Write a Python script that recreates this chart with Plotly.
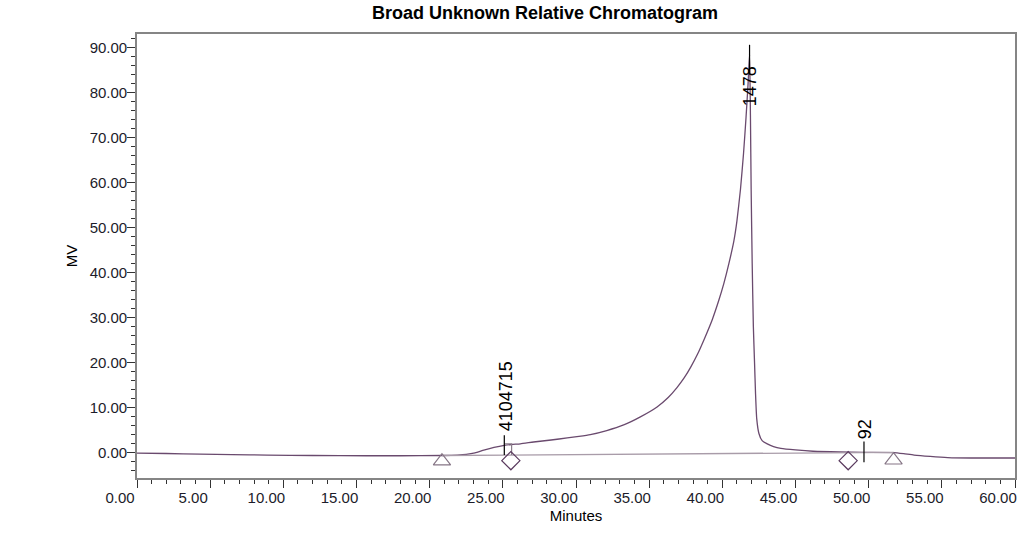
import plotly.graph_objects as go

# ---- data ----
time_min = [0, 2, 4.3, 6.5, 8.9, 12, 15.7, 18, 20.84, 21.9, 22.5, 23.1, 23.7, 24.4, 25.1,
            25.6, 26.2, 27.1, 28.3, 29.4, 30.2, 30.98, 32.1, 33.26, 34.4, 35.54, 36.3, 36.9,
            37.4, 37.83, 38.3, 38.74, 39.31, 39.76, 40.1, 40.45, 40.79, 41.0, 41.24, 41.45,
            41.62, 41.76, 41.86, 41.92, 41.97, 42.04, 42.12, 42.2, 42.27, 42.35, 42.5, 42.72,
            43.07, 43.5, 44.0, 45.0, 46.2, 48.0, 49.7, 51.7, 52.4, 53.1, 54.2, 55.4, 57.0, 60.0]
signal_mv = [-0.15, -0.25, -0.4, -0.5, -0.6, -0.7, -0.75, -0.75, -0.7, -0.6, -0.45, -0.1, 0.5,
             1.1, 1.55, 1.75, 1.9, 2.3, 2.75, 3.2, 3.55, 3.95, 4.85, 6.1, 7.9, 10.1, 12.2, 14.4,
             16.6, 18.9, 21.8, 25.0, 29.5, 33.8, 37.5, 42.0, 47.0, 51.5, 58.5, 66.5, 74.5, 82.0,
             88.5, 75.0, 58.3, 42.0, 28.0, 20.0, 13.0, 7.5, 4.2, 2.6, 1.9, 1.3, 0.9, 0.55, 0.25,
             0.08, 0.0, -0.05, -0.3, -0.6, -0.9, -1.15, -1.25, -1.25]

baseline_t = [20.84, 51.7]
baseline_y = [-0.7, 0.0]

triangle_t = [20.84, 51.7]
triangle_y = [-1.95, -1.75]
diamond_t = [25.55, 48.6]
diamond_y = [-1.85, -1.85]

# peak end bracket
bracket_t = [25.1, 25.6, 25.6]
bracket_y = [1.9, 1.9, -0.6]

# peak labels
label_text = ["4104715", "1478", "92"]
label_line_t = [25.1, 41.86, 49.68]
label_line_top = [3.8, 90.6, 2.4]
label_line_bottom = [-0.6, 84.0, -2.2]
label_text_x = [25.2, 41.86, 49.75]
label_text_bottom = [4.4, 76.6, 2.7]

x_range = [0, 60]
y_range = [-5.7, 93.0]

FONT = "Liberation Sans"
curve_color = "#6a4a6e"
base_color = "#a99ca9"

fig = go.Figure()

fig.add_trace(go.Scatter(x=time_min, y=signal_mv, mode="lines",
                         line=dict(color=curve_color, width=1.3, shape="spline", smoothing=0.5),
                         hoverinfo="skip"))
fig.add_trace(go.Scatter(x=baseline_t, y=baseline_y, mode="lines",
                         line=dict(color=base_color, width=1.3), hoverinfo="skip"))
fig.add_trace(go.Scatter(x=bracket_t, y=bracket_y, mode="lines",
                         line=dict(color="#8a7d8a", width=1.2), hoverinfo="skip"))

lx, ly = [], []
for t, top, bot in zip(label_line_t, label_line_top, label_line_bottom):
    lx += [t, t, None]
    ly += [top, bot, None]
fig.add_trace(go.Scatter(x=lx, y=ly, mode="lines",
                         line=dict(color="black", width=1.2), hoverinfo="skip"))

fig.add_trace(go.Scatter(x=triangle_t, y=triangle_y, mode="markers",
                         marker=dict(symbol="triangle-up-open", size=15, color="#857585",
                                     line=dict(width=1.2)), hoverinfo="skip"))
fig.add_trace(go.Scatter(x=diamond_t, y=diamond_y, mode="markers",
                         marker=dict(symbol="diamond-open", size=14, color="#5a3a5e",
                                     line=dict(width=1.2)), hoverinfo="skip"))

for txt, tx, ty in zip(label_text, label_text_x, label_text_bottom):
    fig.add_annotation(x=tx, y=ty, text=txt, textangle=-90, showarrow=False,
                       xanchor="center", yanchor="bottom",
                       font=dict(family=FONT, size=18, color="black"), borderpad=0)

fig.update_layout(
    width=1024, height=533,
    paper_bgcolor="white", plot_bgcolor="white",
    showlegend=False,
    margin=dict(l=137, r=9, t=34, b=55, autoexpand=False),
    title=dict(text="<b>Broad Unknown Relative Chromatogram</b>",
               font=dict(family=FONT, size=18, color="black"),
               x=545 / 1024, xanchor="center", xref="container",
               y=1 - 13 / 533, yanchor="middle", yref="container"),
)

fig.update_xaxes(
    range=x_range, tick0=0, dtick=5, tickformat=".2f",
    showgrid=False, zeroline=False,
    showline=True, linecolor="#858585", linewidth=1.6, mirror=True,
    ticks="outside", ticklen=8, tickwidth=1, tickcolor="#333",
    minor=dict(ticks="outside", ticklen=4, dtick=1, tickcolor="#333", showgrid=False),
    tickfont=dict(family=FONT, size=15, color="#1c1c2a"),
    ticklabelshift=-17, ticklabelstandoff=-3, ticklabeloverflow="allow",
    title=dict(text="Minutes", font=dict(family=FONT, size=15, color="black"), standoff=6),
)
fig.update_yaxes(
    range=y_range, tick0=0, dtick=10, tickformat=".2f",
    showgrid=False, zeroline=False,
    showline=True, linecolor="#858585", linewidth=1.6, mirror=True,
    ticks="outside", ticklen=8, tickwidth=1, tickcolor="#333",
    minor=dict(ticks="outside", ticklen=4, dtick=2, tickcolor="#333", showgrid=False),
    tickfont=dict(family=FONT, size=15, color="#1c1c2a"),
    ticklabelstandoff=-3,
    title=dict(text="MV", font=dict(family=FONT, size=15, color="black"), standoff=8),
)

fig.write_html("out.html", config={"displayModeBar": False},
               post_script="document.body.style.margin='0';")
